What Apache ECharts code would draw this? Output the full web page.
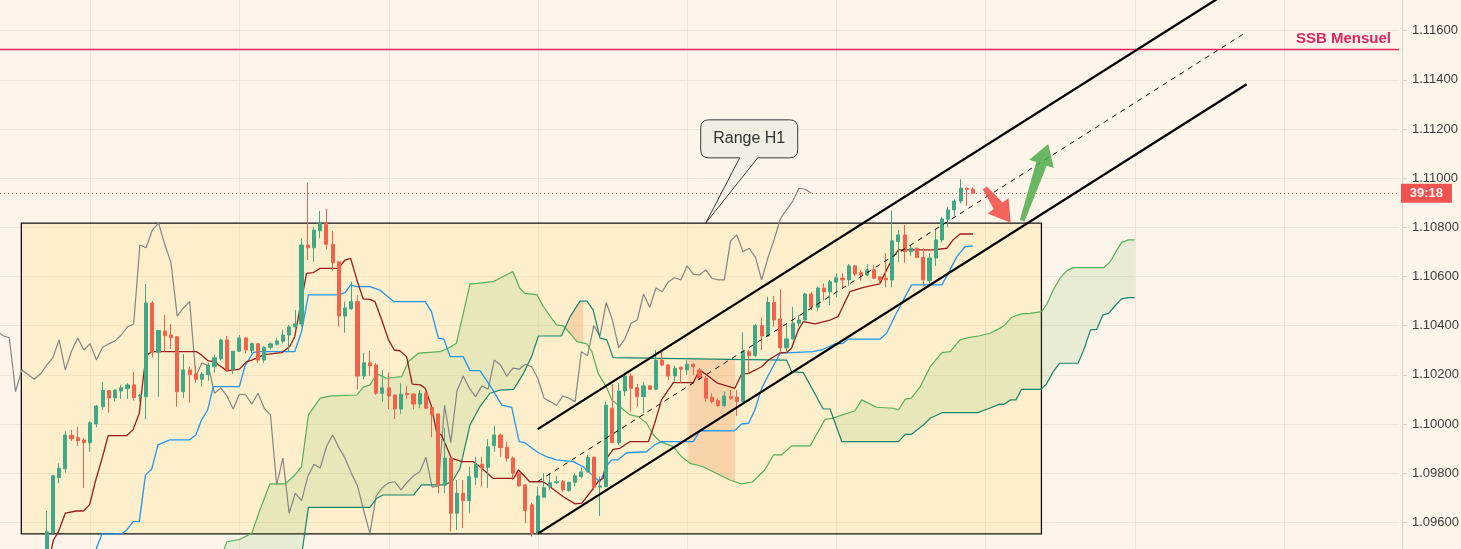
<!DOCTYPE html>
<html><head><meta charset="utf-8">
<script src="https://cdn.jsdelivr.net/npm/echarts/dist/echarts.min.js"></script>
<style>html,body{margin:0;padding:0;background:#fdf5e9;}#c{width:1461px;height:549px;}</style>
</head><body><div id="c"></div>
<script>
// ---------- DATA ----------
const FIRST = 7; // index of first candle
const ohlc = [ // [open, close, low, high]
[1.09447,1.09562,1.09406,1.09646],[1.09558,1.09789,1.09549,1.09793],[1.09782,1.09820,1.09759,1.09840],[1.09818,1.09955,1.09802,1.09973],
[1.09954,1.09940,1.09931,1.09976],[1.09944,1.09932,1.09911,1.09988],[1.09935,1.09924,1.09739,1.09943],[1.09924,1.10005,1.09887,1.10011],
[1.10000,1.10073,1.09987,1.10077],[1.10070,1.10136,1.10057,1.10172],[1.10136,1.10106,1.10046,1.10138],[1.10106,1.10138,1.10091,1.10141],
[1.10134,1.10147,1.10102,1.10159],[1.10144,1.10159,1.10102,1.10166],[1.10159,1.10107,1.10095,1.10212],[1.10113,1.10117,1.10090,1.10122],
[1.10111,1.10492,1.10020,1.10570],[1.10492,1.10292,1.10270,1.10500],[1.10292,1.10380,1.10111,1.10383],[1.10378,1.10359,1.10294,1.10444],
[1.10362,1.10351,1.10305,1.10407],[1.10355,1.10131,1.10070,1.10358],[1.10131,1.10220,1.10105,1.10285],[1.10220,1.10201,1.10087,1.10233],
[1.10203,1.10182,1.10168,1.10236],[1.10182,1.10203,1.10152,1.10212],[1.10201,1.10239,1.10176,1.10249],[1.10233,1.10269,1.10209,1.10282],
[1.10266,1.10342,1.10258,1.10347],[1.10342,1.10220,1.10213,1.10358],[1.10223,1.10296,1.10204,1.10296],[1.10296,1.10350,1.10293,1.10362],
[1.10350,1.10301,1.10288,1.10352],[1.10298,1.10327,1.10288,1.10331],[1.10326,1.10260,1.10249,1.10328],[1.10260,1.10312,1.10249,1.10315],
[1.10312,1.10326,1.10304,1.10331],[1.10324,1.10338,1.10319,1.10350],[1.10337,1.10362,1.10328,1.10383],[1.10362,1.10395,1.10294,1.10403],
[1.10395,1.10407,1.10385,1.10464],[1.10407,1.10728,1.10396,1.10756],[1.10728,1.10717,1.10667,1.10982],[1.10717,1.10789,1.10660,1.10803],
[1.10786,1.10817,1.10756,1.10867],[1.10817,1.10731,1.10711,1.10875],[1.10731,1.10656,1.10624,1.10785],[1.10660,1.10439,1.10396,1.10661],
[1.10439,1.10472,1.10372,1.10498],[1.10469,1.10498,1.10464,1.10579],[1.10498,1.10195,1.10141,1.10525],[1.10195,1.10249,1.10182,1.10290],
[1.10249,1.10236,1.10195,1.10297],[1.10240,1.10125,1.10118,1.10248],[1.10125,1.10147,1.10091,1.10220],[1.10147,1.10114,1.10060,1.10209],
[1.10118,1.10061,1.10020,1.10121],[1.10061,1.10121,1.10041,1.10166],[1.10125,1.10119,1.10101,1.10155],[1.10122,1.10081,1.10060,1.10123],
[1.10081,1.10125,1.10064,1.10136],[1.10125,1.10064,1.10060,1.10136],[1.10068,1.10037,1.09946,1.10069],[1.10041,1.09752,1.09718,1.10041],
[1.09752,1.09861,1.09718,1.09983],[1.09861,1.09637,1.09562,1.09861],[1.09637,1.09718,1.09569,1.09772],[1.09718,1.09688,1.09577,1.09772],
[1.09688,1.09786,1.09639,1.09826],[1.09783,1.09836,1.09752,1.09867],[1.09836,1.09821,1.09745,1.09867],[1.09824,1.09907,1.09740,1.09938],
[1.09912,1.09955,1.09887,1.09993],[1.09955,1.09904,1.09867,1.09962],[1.09905,1.09861,1.09847,1.09928],[1.09861,1.09800,1.09772,1.09867],
[1.09800,1.09748,1.09745,1.09806],[1.09752,1.09647,1.09596,1.09756],[1.09671,1.09555,1.09542,1.09678],[1.09555,1.09707,1.09549,1.09745],
[1.09702,1.09741,1.09700,1.09800],[1.09745,1.09761,1.09732,1.09800],[1.09761,1.09765,1.09756,1.09789],[1.09765,1.09732,1.09725,1.09772],
[1.09729,1.09763,1.09725,1.09765],[1.09763,1.09789,1.09745,1.09800],[1.09786,1.09805,1.09779,1.09824],[1.09805,1.09865,1.09802,1.09874],
[1.09865,1.09743,1.09732,1.09867],[1.09743,1.09748,1.09626,1.09786],[1.09745,1.10076,1.09743,1.10091],[1.10064,1.09924,1.09922,1.10163],
[1.09924,1.10134,1.09915,1.10166],[1.10134,1.10195,1.10114,1.10206],[1.10195,1.10145,1.10050,1.10206],[1.10148,1.10111,1.10070,1.10163],
[1.10111,1.10155,1.10044,1.10172],[1.10155,1.10141,1.10138,1.10159],[1.10141,1.10260,1.10138,1.10301],[1.10260,1.10240,1.10236,1.10294],
[1.10240,1.10195,1.10179,1.10243],[1.10195,1.10227,1.10172,1.10236],[1.10231,1.10223,1.10168,1.10233],[1.10220,1.10243,1.10199,1.10260],
[1.10243,1.10233,1.10199,1.10247],[1.10220,1.10186,1.10179,1.10227],[1.10186,1.10105,1.10091,1.10195],[1.10109,1.10091,1.10084,1.10125],
[1.10095,1.10075,1.10070,1.10105],[1.10075,1.10114,1.10070,1.10132],[1.10111,1.10105,1.10098,1.10138],[1.10109,1.10091,1.10033,1.10138],
[1.10091,1.10294,1.10088,1.10373],[1.10294,1.10278,1.10206,1.10301],[1.10278,1.10400,1.10274,1.10407],[1.10400,1.10358,1.10301,1.10434],
[1.10358,1.10494,1.10354,1.10518],[1.10494,1.10423,1.10396,1.10521],[1.10427,1.10310,1.10290,1.10548],[1.10310,1.10346,1.10290,1.10407],
[1.10346,1.10410,1.10342,1.10477],[1.10410,1.10423,1.10396,1.10444],[1.10423,1.10529,1.10420,1.10534],[1.10529,1.10475,1.10464,1.10538],
[1.10475,1.10553,1.10457,1.10559],[1.10553,1.10538,1.10502,1.10572],[1.10538,1.10579,1.10484,1.10586],[1.10577,1.10595,1.10516,1.10613],
[1.10593,1.10586,1.10553,1.10613],[1.10586,1.10643,1.10562,1.10651],[1.10643,1.10610,1.10602,1.10647],[1.10616,1.10606,1.10583,1.10627],
[1.10606,1.10627,1.10602,1.10651],[1.10627,1.10593,1.10589,1.10647],[1.10599,1.10586,1.10572,1.10602],[1.10593,1.10586,1.10556,1.10695],
[1.10586,1.10745,1.10556,1.10868],[1.10742,1.10769,1.10660,1.10789],[1.10769,1.10701,1.10656,1.10810],[1.10701,1.10715,1.10684,1.10728],
[1.10715,1.10678,1.10674,1.10717],[1.10678,1.10586,1.10559,1.10715],[1.10583,1.10675,1.10572,1.10695],[1.10675,1.10749,1.10643,1.10789],
[1.10749,1.10834,1.10738,1.10843],[1.10833,1.10871,1.10800,1.10882],[1.10871,1.10907,1.10846,1.10914],[1.10907,1.10959,1.10898,1.10996],
[1.10959,1.10955,1.10887,1.10963],[1.10955,1.10939,1.10935,1.10963]
];
const tenkan = [[7.5,1.09460],[8.1,1.09528],[8.9,1.09562],[10,1.09637],[11.8,1.09646],[12.9,1.09646],[13.9,1.09671],[14.9,1.09772],[16,1.09867],[16.9,1.09953],[19.9,1.09953],[20.9,1.09976],[21.9,1.10044],[22.5,1.10179],[23,1.10278],[23.9,1.10294],[31.1,1.10294],[31.9,1.10281],[32.9,1.10258],[33.9,1.10254],[36,1.10216],[38,1.10223],[39.2,1.10254],[40,1.10260],[42,1.10282],[44.8,1.10290],[46.1,1.10315],[46.9,1.10355],[48,1.10505],[48.8,1.10613],[49.9,1.10616],[51,1.10633],[53.9,1.10633],[55,1.10667],[55.9,1.10674],[56.9,1.10586],[57.9,1.10509],[59,1.10507],[59.8,1.10498],[60.9,1.10423],[62,1.10342],[62.9,1.10301],[63.8,1.10298],[64.9,1.10274],[65.8,1.10162],[67.1,1.10159],[67.9,1.10145],[68.9,1.10071],[69.7,1.09969],[70.5,1.09955],[71.3,1.09908],[72.1,1.09861],[73.8,1.09847],[75.6,1.09847],[76.7,1.09826],[78.8,1.09779],[82.1,1.09779],[82.9,1.09813],[84.7,1.09765],[86.9,1.09765],[90.1,1.09704],[92,1.09675],[93.1,1.09678],[94.1,1.09711],[95.7,1.09765],[96.5,1.09779],[97.1,1.09861],[98.1,1.09897],[99.2,1.09901],[100.8,1.09928],[103.8,1.09928],[104.8,1.10003],[105.9,1.10098],[107.8,1.10168],[111,1.10168],[112,1.10220],[113.2,1.10199],[114.9,1.10166],[117.7,1.10145],[118.8,1.10204],[119.9,1.10206],[122,1.10233],[123.1,1.10260],[125,1.10290],[126,1.10290],[126.8,1.10308],[127.9,1.10383],[128.7,1.10416],[130.6,1.10407],[133,1.10423],[134.3,1.10437],[136.2,1.10538],[138.4,1.10556],[141,1.10570],[142.1,1.10627],[143.2,1.10681],[144,1.10708],[149.6,1.10708],[151.8,1.10715],[152.8,1.10749],[153.9,1.10773],[156,1.10773]];
const kijun = [[14.5,1.09460],[15.9,1.09553],[19.1,1.09553],[19.9,1.09569],[20.9,1.09603],[21.9,1.09603],[22.9,1.09793],[23.9,1.09816],[24.9,1.09915],[26.8,1.09935],[29.9,1.09935],[31,1.09955],[31.9,1.10016],[32.9,1.10057],[33.8,1.10152],[38,1.10152],[38.9,1.10236],[40.2,1.10290],[41,1.10294],[46.9,1.10294],[48,1.10376],[49.1,1.10525],[53.9,1.10525],[55,1.10534],[55.9,1.10566],[56.9,1.10559],[59,1.10559],[60.6,1.10545],[62.8,1.10498],[67.9,1.10498],[68.9,1.10457],[70,1.10349],[70.9,1.10345],[71.9,1.10274],[74,1.10274],[75.1,1.10217],[76.7,1.10217],[78.6,1.10145],[80.2,1.10077],[81.8,1.10068],[83,1.09928],[83.9,1.09924],[86.1,1.09883],[87.4,1.09867],[89,1.09854],[91.7,1.09847],[93.3,1.09826],[94.7,1.09793],[96,1.09765],[97.3,1.09837],[97.9,1.09854],[98.9,1.09854],[100.3,1.09883],[103.5,1.09887],[104.8,1.09915],[105.9,1.09928],[111,1.09928],[112.1,1.09973],[117.6,1.09972],[118.8,1.10000],[119.9,1.10003],[120.9,1.10057],[122,1.10145],[123.1,1.10199],[124.1,1.10247],[125,1.10288],[130.3,1.10294],[131.9,1.10304],[133.8,1.10326],[135.1,1.10328],[135.9,1.10345],[141,1.10345],[142.1,1.10369],[143.4,1.10437],[144.8,1.10505],[146.1,1.10566],[151,1.10566],[152.3,1.10627],[153.4,1.10681],[154.7,1.10721],[156,1.10725]];
const spanA = [[35.2,1.09467],[36,1.09521],[38.1,1.09531],[40,1.09556],[41.3,1.09650],[42.9,1.09756],[45.3,1.09756],[46.7,1.09786],[48,1.09826],[49.1,1.10037],[51,1.10105],[52.8,1.10114],[56.9,1.10118],[57.9,1.10149],[59,1.10159],[60.1,1.10204],[61.7,1.10186],[64.1,1.10193],[65.2,1.10254],[66.8,1.10288],[70.3,1.10294],[71.6,1.10308],[72.9,1.10328],[75.1,1.10570],[76.2,1.10572],[78.8,1.10579],[82,1.10620],[83.1,1.10552],[83.9,1.10532],[85.9,1.10525],[86.9,1.10477],[89,1.10403],[90.1,1.10399],[91.2,1.10369],[92.3,1.10335],[93.9,1.10326],[94.7,1.10294],[95.7,1.10206],[97,1.10152],[97.9,1.10098],[99.2,1.10071],[100.8,1.10037],[102.2,1.10030],[103.5,1.10003],[104.6,1.09955],[105.7,1.09928],[107.8,1.09908],[109.1,1.09867],[110.5,1.09840],[112.6,1.09826],[114.2,1.09806],[116.9,1.09772],[118.8,1.09756],[120.5,1.09764],[122.5,1.09813],[123.9,1.09874],[125.2,1.09874],[126.8,1.09911],[129.8,1.09911],[131.1,1.09969],[132.2,1.10019],[133.3,1.10023],[137,1.10054],[138.1,1.10098],[140.5,1.10068],[143.2,1.10064],[144,1.10057],[145.1,1.10101],[146.1,1.10105],[147.5,1.10152],[149.1,1.10233],[151,1.10290],[152.3,1.10294],[153.9,1.10342],[155.2,1.10351],[157.1,1.10359],[158.7,1.10369],[160.3,1.10389],[161.1,1.10403],[162.2,1.10434],[163.8,1.10448],[165.2,1.10450],[167,1.10457],[167.8,1.10484],[168.9,1.10545],[170,1.10593],[171.1,1.10624],[172.1,1.10636],[177,1.10636],[178,1.10658],[179,1.10701],[179.9,1.10739],[181,1.10749],[182,1.10749]];
const spanB = [[48,1.09463],[49.1,1.09661],[59,1.09661],[60.1,1.09698],[61.1,1.09711],[66,1.09711],[67.3,1.09752],[71.1,1.09752],[72.4,1.09772],[73.5,1.09820],[75.1,1.09996],[76.7,1.10071],[78.3,1.10125],[79.9,1.10138],[82.1,1.10141],[83.7,1.10206],[85,1.10274],[86.1,1.10358],[89.8,1.10358],[91.2,1.10437],[92.8,1.10500],[93.9,1.10500],[94.9,1.10464],[96,1.10349],[97.1,1.10342],[98.1,1.10270],[116.9,1.10263],[126,1.10260],[126.8,1.10213],[128.7,1.10209],[131.9,1.10061],[133,1.10061],[134.9,1.09928],[144,1.09928],[145.1,1.09958],[146.1,1.09958],[148,1.09996],[149.1,1.10023],[151,1.10046],[156.8,1.10046],[158.2,1.10060],[160.3,1.10081],[161,1.10080],[162,1.10098],[162.9,1.10098],[163.8,1.10141],[166.9,1.10141],[167.8,1.10162],[168.9,1.10213],[169.9,1.10247],[172.9,1.10247],[173.8,1.10301],[174.9,1.10383],[175.9,1.10385],[176.9,1.10444],[177.8,1.10450],[178.8,1.10480],[179.9,1.10509],[181,1.10514],[182,1.10514]];
const cloudFillSpans = [[35, 90.4], [90.4, 93.3], [110.2, 117.7], [133.8, 182]];
const channelUpper = [[86, 1.09979], [200, 1.11805]];
const channelMid = [[86, 1.09766], [200, 1.11595]];
const channelLower = [[86, 1.09554], [200, 1.11382]];
const rangeBox = [2.93, 1.10817, 167, 1.09553]; // start, top, end, bottom
const calloutTip = [113, 1.10817];
const calloutBody = [120, 1.11160];
const calloutText = 'Range H1';
const ssbLevel = 1.11524;
const ssbText = 'SSB Mensuel';
const redArrow = [157.9, 1.10960, 162.05, 1.10819];
const greenArrow = [163.9, 1.10827, 168.1, 1.11139];
const dayLines = [14, 38, 62, 86, 110, 134, 158, 182, 206];
const countdownText = '39:18';
const N = 225;
const yMin = 1.094, yMax = 1.118, yStep = 0.002;

// ---------- CHART ----------
const SLOT = 6.2175;
const FONT = '"Liberation Sans", Arial, sans-serif';
const lastClose = ohlc[ohlc.length - 1][1];
const cats = Array.from({length: N}, (_, k) => String(k));
const candleData = ohlc.map((d, k) => [k + FIRST, d[0], d[1], d[2], d[3]]);
const lagging = ohlc.slice(25 - FIRST).map((d, k) => [k - 1, d[1]]);

function clipX(pts, xs, xe) {
  const out = [];
  for (let k = 0; k < pts.length - 1; k++) {
    const [x1, y1] = pts[k], [x2, y2] = pts[k + 1];
    const lo = Math.max(x1, xs), hi = Math.min(x2, xe);
    if (lo > hi) continue;
    const yAt = x => x2 === x1 ? y1 : y1 + (y2 - y1) * (x - x1) / (x2 - x1);
    if (!out.length || out[out.length - 1][0] !== lo) out.push([lo, yAt(lo)]);
    out.push([hi, yAt(hi)]);
  }
  return out;
}
function valAt(line, x) {
  for (let k = 0; k < line.length - 1; k++) {
    if (x >= line[k][0] && x <= line[k + 1][0]) {
      const t = (x - line[k][0]) / ((line[k + 1][0] - line[k][0]) || 1);
      return line[k][1] + t * (line[k + 1][1] - line[k][1]);
    }
  }
  return x < line[0][0] ? -Infinity : line[line.length - 1][1];
}
function arrowPts(T, P, headLen, headHalf, shaftHalf, tailHalf) {
  const dx = P[0] - T[0], dy = P[1] - T[1], L = Math.hypot(dx, dy);
  const ux = dx / L, uy = dy / L, nx = -uy, ny = ux;
  const B = [P[0] - ux * headLen, P[1] - uy * headLen];
  return [[T[0] + nx * tailHalf, T[1] + ny * tailHalf], [B[0] + nx * shaftHalf, B[1] + ny * shaftHalf],
    [B[0] + nx * headHalf, B[1] + ny * headHalf], P, [B[0] - nx * headHalf, B[1] - ny * headHalf],
    [B[0] - nx * shaftHalf, B[1] - ny * shaftHalf], [T[0] - nx * tailHalf, T[1] - ny * tailHalf]];
}
const lineSeries = (name, data, color, width, z, type) => ({
  name, type: 'line', xAxisIndex: 1, yAxisIndex: 0, data, symbol: 'none', showSymbol: false,
  silent: true, z, animation: false, lineStyle: {color, width, type: type || 'solid'}
});
// horizontal level drawn across the plot through the y scale
const levelSeries = (value, style, z) => ({
  type: 'custom', xAxisIndex: 1, yAxisIndex: 0, z, silent: true, clip: false,
  data: [[0, value]],
  renderItem(params, api) {
    const cs = params.coordSys; const y = Math.round(api.coord([0, api.value(1)])[1]) + 0.5;
    return {type: 'line', shape: {x1: cs.x, y1: y, x2: cs.x + cs.width, y2: y}, style};
  }
});

const chart = echarts.init(document.getElementById('c'), null, {renderer: 'canvas'});
chart.setOption({
  backgroundColor: '#fdf5e9',
  animation: false,
  grid: {left: 0, top: -18.46, width: N * SLOT, height: 589.92, containLabel: false, outerBoundsMode: 'none'},
  xAxis: [
    {type: 'category', data: cats, show: false, boundaryGap: true},
    {type: 'value', min: -0.5, max: N - 0.5, show: false, axisLine: {onZero: false}}
  ],
  yAxis: [{
    type: 'value', position: 'right', offset: 3, min: yMin, max: yMax, interval: yStep, scale: true,
    axisLine: {show: true, onZero: false, lineStyle: {color: '#d8d0c4', width: 1}},
    axisTick: {show: true, length: 5, lineStyle: {color: '#d8d0c4'}},
    axisLabel: {color: '#3d3d3d', fontSize: 13, fontFamily: FONT, margin: 10, formatter: v => v.toFixed(5), showMinLabel: false, showMaxLabel: false},
    splitLine: {show: true, lineStyle: {color: '#efe6d8', width: 1}}
  }],
  series: [
    { // day grid lines
      type: 'custom', xAxisIndex: 1, yAxisIndex: 0, z: 1, silent: true,
      data: dayLines.map(d => [d, yMin]),
      renderItem(params, api) {
        const cs = params.coordSys; const x = Math.round(api.coord([api.value(0), yMin])[0]) + 0.5;
        return {type: 'line', shape: {x1: x, y1: cs.y, x2: x, y2: cs.y + cs.height}, style: {stroke: '#efe6d8', lineWidth: 1}};
      }
    },
    { // range box
      type: 'custom', xAxisIndex: 1, yAxisIndex: 0, z: 2, silent: true,
      data: [rangeBox],
      renderItem(params, api) {
        const p0 = api.coord([api.value(0), api.value(1)]);
        const p1 = api.coord([api.value(2), api.value(3)]);
        return {type: 'rect', shape: {x: p0[0], y: p0[1], width: p1[0] - p0[0], height: p1[1] - p0[1]},
          style: {fill: 'rgba(255,222,125,0.28)', stroke: '#111', lineWidth: 1.3}};
      }
    },
    { // ichimoku cloud fill
      type: 'custom', xAxisIndex: 1, yAxisIndex: 0, z: 3, silent: true,
      data: [spanA[0]],
      renderItem(params, api) {
        const A = spanA.map(p => api.coord(p)), B = spanB.map(p => api.coord(p));
        const children = cloudFillSpans.map(([s, e]) => {
          const xs = api.coord([s, yMin])[0], xe = api.coord([e, yMin])[0];
          const a = clipX(A, xs, xe), b = clipX(B, xs, xe).reverse();
          const up = valAt(spanA, (s + e) / 2) >= valAt(spanB, (s + e) / 2);
          return {type: 'polygon', shape: {points: a.concat(b)},
            style: {fill: up ? 'rgba(90,175,80,0.13)' : 'rgba(240,125,70,0.24)'}};
        });
        return {type: 'group', children};
      }
    },
    lineSeries('Lagging', lagging, '#858585', 1.2, 4),
    lineSeries('Span A', spanA, '#55b05a', 1.2, 4),
    lineSeries('Span B', spanB, '#16876d', 1.2, 4),
    lineSeries('Kijun', kijun, '#2196f3', 1.3, 4),
    lineSeries('Tenkan', tenkan, '#9a1c1c', 1.3, 4),
    {
      name: 'EURUSD', type: 'candlestick', xAxisIndex: 0, yAxisIndex: 0, z: 5, silent: true,
      data: candleData, encode: {x: 0, y: [1, 2, 3, 4]}, barWidth: 3.6,
      itemStyle: {color: '#3fa886', color0: '#f0634b', borderColor: '#3fa886', borderColor0: '#f0634b', borderWidth: 1}
    },
    levelSeries(ssbLevel, {stroke: '#e0245e', lineWidth: 1.3}, 6),
    levelSeries(lastClose, {stroke: '#ef5350', lineWidth: 1, lineDash: [1, 3]}, 6),
    lineSeries('Channel upper', channelUpper, '#000', 2.3, 6),
    lineSeries('Channel mid', channelMid, '#000', 1, 6, [5, 5]),
    lineSeries('Channel lower', channelLower, '#000', 2.3, 6),
    { // arrows
      type: 'custom', xAxisIndex: 1, yAxisIndex: 0, z: 7, silent: true,
      data: [redArrow, greenArrow],
      renderItem(params, api) {
        const T = api.coord([api.value(0), api.value(1)]), P = api.coord([api.value(2), api.value(3)]);
        const col = params.dataIndex === 0 ? 'rgba(240,80,72,0.88)' : 'rgba(80,172,75,0.85)';
        return {type: 'polygon', shape: {points: arrowPts(T, P, 21, 13, 5.5, 2.5)}, style: {fill: col}};
      }
    },
    { // callout
      type: 'custom', xAxisIndex: 1, yAxisIndex: 0, z: 8, silent: true,
      data: [[calloutTip[0], calloutTip[1], calloutBody[0], calloutBody[1]]],
      renderItem(params, api) {
        const [tx, ty] = api.coord([api.value(0), api.value(1)]);
        const [cx, cy] = api.coord([api.value(2), api.value(3)]);
        const w = 97, h = 38, r = 8;
        const x0 = cx - w / 2, y0 = cy - h / 2, x1 = cx + w / 2, y1 = cy + h / 2;
        const ta = x0 + 39, tb = x0 + 57;
        const d = `M${x0 + r} ${y0} L${x1 - r} ${y0} Q${x1} ${y0} ${x1} ${y0 + r} L${x1} ${y1 - r} Q${x1} ${y1} ${x1 - r} ${y1} ` +
          `L${tb} ${y1} L${tx} ${ty} L${ta} ${y1} L${x0 + r} ${y1} Q${x0} ${y1} ${x0} ${y1 - r} L${x0} ${y0 + r} Q${x0} ${y0} ${x0 + r} ${y0} Z`;
        return {type: 'group', children: [
          {type: 'path', shape: {pathData: d}, style: {fill: '#f2eee4', stroke: '#3a3a3a', lineWidth: 1}},
          {type: 'text', style: {text: calloutText, x: cx, y: cy, align: 'center', verticalAlign: 'middle',
            textAlign: 'center', textVerticalAlign: 'middle', fill: '#333', font: '16px ' + FONT}}
        ]};
      }
    },
    { // labels
      type: 'custom', xAxisIndex: 1, yAxisIndex: 0, z: 9, silent: true, clip: false,
      data: [[ohlc.length - 1 + FIRST, lastClose]],
      renderItem(params, api) {
        const cs = params.coordSys; const right = cs.x + cs.width;
        const yP = api.coord([0, lastClose])[1], yS = api.coord([0, ssbLevel])[1];
        return {type: 'group', children: [
          {type: 'rect', shape: {x: right + 2, y: yP - 9.5, width: 51, height: 19}, style: {fill: '#ef5350'}},
          {type: 'text', style: {text: countdownText, x: right + 27.5, y: yP + 0.5, align: 'center', verticalAlign: 'middle',
            textAlign: 'center', textVerticalAlign: 'middle', fill: '#fff2f0', font: 'bold 13px ' + FONT}},
          {type: 'text', style: {text: ssbText, x: right - 8, y: yS - 11, align: 'right', verticalAlign: 'middle',
            textAlign: 'right', textVerticalAlign: 'middle', fill: '#e0245e', font: 'bold 15px ' + FONT}}
        ]};
      }
    }
  ]
});
</script>
</body></html>
